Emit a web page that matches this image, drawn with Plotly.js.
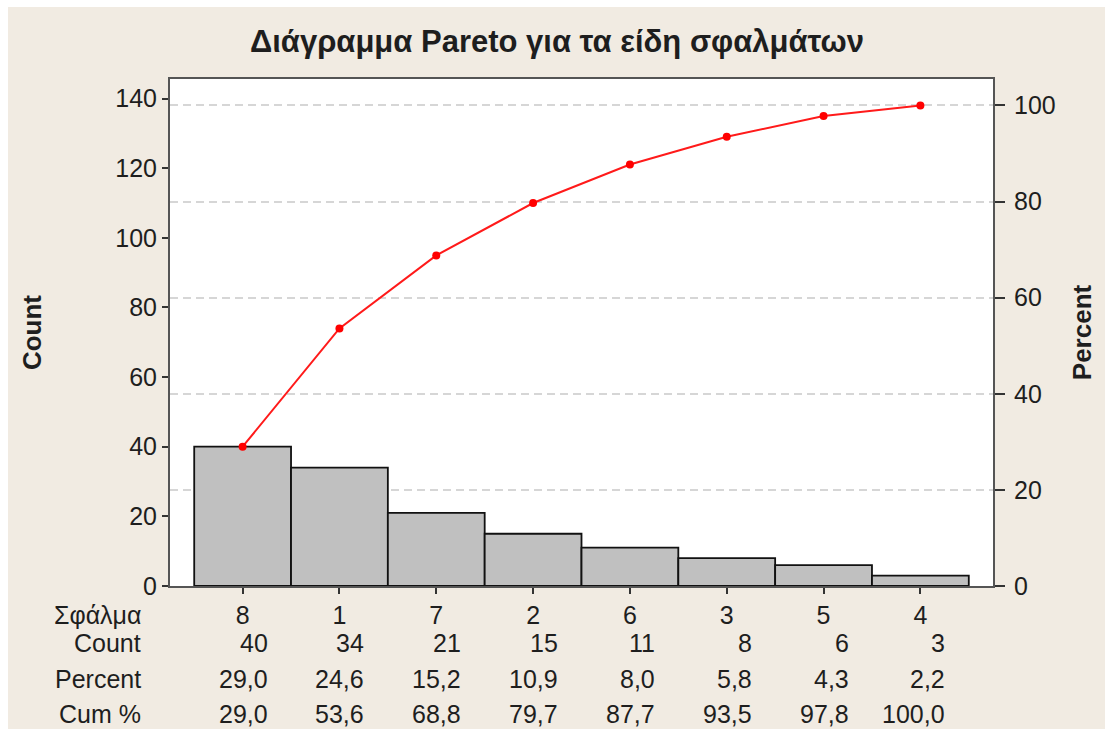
<!DOCTYPE html>
<html>
<head>
<meta charset="utf-8">
<script src="https://cdn.plot.ly/plotly-3.0.1.min.js"></script>
<style>html,body{margin:0;padding:0;background:#f1ebe2;}</style>
</head>
<body>
<div id="chart" style="width:1105px;height:729px;"></div>
<script>
// Data
const categories = ["8", "1", "7", "2", "6", "3", "5", "4"];
const counts = [40, 34, 21, 15, 11, 8, 6, 3];
const percentLabels = ["29,0", "24,6", "15,2", "10,9", "8,0", "5,8", "4,3", "2,2"];
const cumPercent = [29.0, 53.6, 68.8, 79.7, 87.7, 93.5, 97.8, 100.0];
const cumPercentLabels = ["29,0", "53,6", "68,8", "79,7", "87,7", "93,5", "97,8", "100,0"];
const rowLabels = ["Σφάλμα", "Count", "Percent", "Cum %"];
const total = 138;

const FONT = "Liberation Sans, Arial, sans-serif";
const TXT = "#1e1e1e";
const FS = 25;

// geometry
const L = 170, R = 112, T = 79, B = 143, W = 1105, H = 729;
const pw = W - L - R, ph = H - T - B;
const countMax = 145.6;
const pctMax = countMax / total * 100;

const bars = {
  type: "bar", x: categories, y: counts,
  marker: {color: "#c0c0c0", line: {color: "#111", width: 1.8}},
  hoverinfo: "x+y"
};
const cum = {
  type: "scatter", mode: "lines+markers", x: categories, y: cumPercent, yaxis: "y2",
  line: {color: "#ff1a1a", width: 2},
  marker: {color: "#ff0000", size: 8}
};

const annotations = [];
const rowY = [615, 643, 679, 714];
rowLabels.forEach((lab, r) => {
  annotations.push({xref: "paper", yref: "paper", x: (143 - L) / pw, y: (586 - rowY[r]) / ph,
    xanchor: "right", yanchor: "middle", text: lab, showarrow: false,
    font: {family: FONT, size: FS, color: TXT}});
});
const rows = [counts.map(String), percentLabels, cumPercentLabels];
rows.forEach((vals, r) => {
  vals.forEach((v, i) => {
    annotations.push({xref: "x", yref: "paper", x: i, y: (586 - rowY[r + 1]) / ph,
      xanchor: "right", yanchor: "middle", xshift: 27, text: v, showarrow: false,
      font: {family: FONT, size: FS, color: TXT}});
  });
});

const layout = {
  width: W, height: H,
  margin: {l: L, r: R, t: T, b: B, pad: 0},
  paper_bgcolor: "#f1ebe2",
  plot_bgcolor: "#ffffff",
  showlegend: false,
  bargap: 0,
  font: {family: FONT, size: FS, color: TXT},
  title: {text: "<b>Διάγραμμα Pareto για τα είδη σφαλμάτων</b>", font: {family: FONT, size: 31, color: TXT},
    xref: "paper", x: (557 - L) / pw, xanchor: "center", yref: "container", y: 1 - 41 / H, yanchor: "middle"},
  xaxis: {
    type: "category", range: [-0.75, 7.75], fixedrange: true,
    showline: true, linecolor: "#555", linewidth: 2, mirror: true,
    ticks: "outside", ticklen: 6, tickwidth: 2, tickcolor: "#333",
    tickfont: {family: FONT, size: FS, color: TXT}, showgrid: false, zeroline: false
  },
  yaxis: {
    range: [0, countMax], dtick: 20, tick0: 0,
    showline: true, linecolor: "#555", linewidth: 2,
    ticks: "outside", ticklen: 6, tickwidth: 2, tickcolor: "#333",
    tickfont: {family: FONT, size: FS, color: TXT}, showgrid: false, zeroline: false,
    title: {text: "<b>Count</b>", font: {family: FONT, size: 26, color: TXT}, standoff: 66}
  },
  yaxis2: {
    overlaying: "y", side: "right", range: [0, pctMax], dtick: 20, tick0: 0,
    showline: true, linecolor: "#555", linewidth: 2,
    ticks: "outside", ticklen: 10, tickwidth: 2, tickcolor: "#333", ticklabelstandoff: 4,
    tickfont: {family: FONT, size: FS, color: TXT},
    showgrid: true, gridcolor: "#d6d6d6", gridwidth: 2, griddash: "8px,5px", zeroline: false,
    title: {text: "<b>Percent</b>", font: {family: FONT, size: 26, color: TXT}, standoff: 18}
  },
  annotations: annotations,
  shapes: [
    {type: "rect", xref: "paper", yref: "paper", x0: -0.3, x1: (8 - L) / pw, y0: -0.5, y1: 1.3,
      fillcolor: "#ffffff", line: {width: 0}, layer: "above"},
    {type: "rect", xref: "paper", yref: "paper", x0: -0.3, x1: 1.3, y0: (586 - 7) / ph, y1: 1.3,
      fillcolor: "#ffffff", line: {width: 0}, layer: "above"}
  ]
};

Plotly.newPlot("chart", [bars, cum], layout, {displayModeBar: false, staticPlot: true});
</script>
</body>
</html>
